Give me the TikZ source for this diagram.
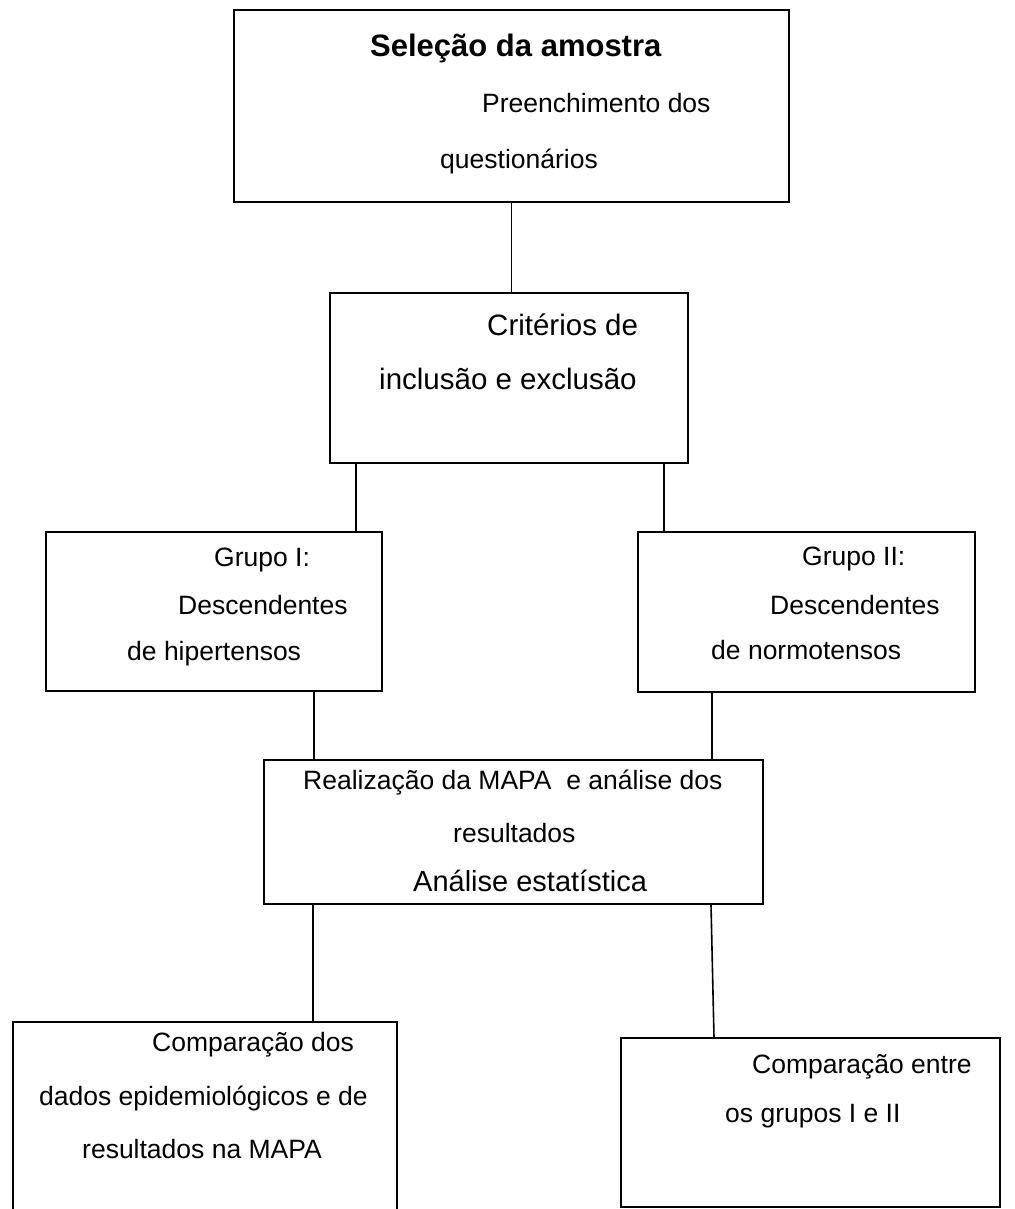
\documentclass[tikz,border=0pt]{standalone}
\usepackage{fontspec}
\setmainfont{Liberation Sans}
\begin{document}
\begin{tikzpicture}[x=1pt,y=-1pt,
  box/.style={draw=black, line width=1.6pt, inner sep=0pt, fill=none},
  txt/.style={inner sep=0pt, anchor=base west, font=\fontsize{26.5}{31}\selectfont},
  bigtxt/.style={inner sep=0pt, anchor=base west, font=\fontsize{29.5}{34}\selectfont},
  ttl/.style={inner sep=0pt, anchor=base west, font=\fontsize{31}{37}\selectfont\bfseries},
  conn/.style={draw=black, line width=1.6pt}]
\useasboundingbox (0,0) rectangle (1014,1209);
\fill[white] (0,0) rectangle (1014,1209);
\clip (0,0) rectangle (1014,1209);

% boxes
\node[box, minimum width=555pt, minimum height=192pt] (b1) at (511.5,106) {};
\node[box, minimum width=358pt, minimum height=170pt] (b2) at (509,378) {};
\node[box, minimum width=336pt, minimum height=159pt] (b3) at (214,611.5) {};
\node[box, minimum width=337pt, minimum height=160pt] (b4) at (806.5,612) {};
\node[box, minimum width=499pt, minimum height=144pt] (b5) at (513.5,832) {};
\node[box, minimum width=379pt, minimum height=169pt] (b7) at (810.5,1122.5) {};
% box 6 runs past the bottom edge
\node[box, minimum width=384pt, minimum height=240pt] (b6) at (205,1142) {};

% connectors
\draw[conn] (b1.south) -- (b1.south |- b2.north);
\draw[conn] (b2.south -| 356,0) -- (b3.north -| 356,0);
\draw[conn] (b2.south -| 664,0) -- (b4.north -| 664,0);
\draw[conn] (b3.south -| 314,0) -- (b5.north -| 314,0);
\draw[conn] (b4.south -| 712,0) -- (b5.north -| 712,0);
\draw[conn] (b5.south -| 313,0) -- (b6.north -| 313,0);
\draw[conn] (b5.south -| 711,0) -- (b7.north -| 714,0);

% texts
\node[ttl] (t1a) at (370,57) {Seleção da amostra};
\node[txt] (t1b) at (482,113) {Preenchimento dos};
\node[txt] (t1c) at (440,168) {questionários};

\node[bigtxt] (t2a) at (487,335) {Critérios de};
\node[bigtxt] (t2b) at (379,389) {inclusão e exclusão};

\node[txt] (t3a) at (214,566) {Grupo I:};
\node[txt] (t3b) at (178,614) {Descendentes};
\node[txt] (t3c) at (127,660) {de hipertensos};

\node[txt] (t4a) at (802,565) {Grupo II:};
\node[txt] (t4b) at (770,614) {Descendentes};
\node[txt] (t4c) at (711,659) {de normotensos};

\node[txt] (t5a) at (303,789) {Realização da MAPA\ \ e análise dos};
\node[txt] (t5b) at (453,842) {resultados};
\node[txt, font=\fontsize{29}{34}\selectfont] (t5c) at (413,891) {Análise estatística};

\node[txt] (t6a) at (152,1051) {Comparação dos};
\node[txt] (t6b) at (39,1105) {dados epidemiológicos e de};
\node[txt] (t6c) at (82,1158) {resultados na MAPA};

\node[txt] (t7a) at (752,1073) {Comparação entre};
\node[txt] (t7b) at (725,1122) {os grupos I e II};
\end{tikzpicture}
\end{document}
